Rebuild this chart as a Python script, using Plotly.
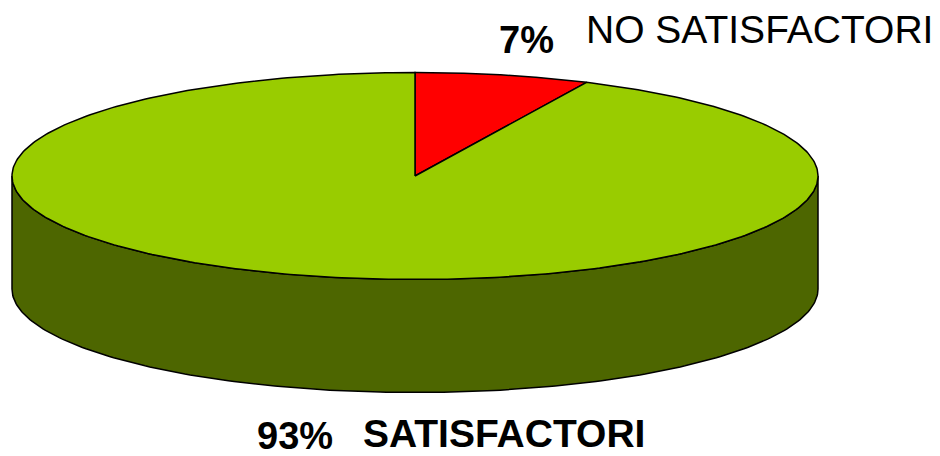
import numpy as np
import plotly.graph_objects as go

# ---- data ----
labels = ["NO SATISFACTORI", "SATISFACTORI"]
values = [7, 93]
top_colors = ["#FF0000", "#99CC00"]
side_colors = ["#800000", "#4D6600"]
label_bold = [False, True]
pct_bold = [True, True]

# ---- geometry (pixels, y downward) ----
CX, CY, A, B, DEPTH = 415, 176, 403, 103.5, 113
W, H = 940, 456


def ell(t_deg, dy=0.0):
    t = np.radians(t_deg)
    return CX + A * np.sin(t), CY - B * np.cos(t) + dy


fig = go.Figure()
total = float(sum(values))
angles = np.cumsum([0] + [v / total * 360.0 for v in values])

# side walls (front half: 90..270 deg, clockwise from 12 o'clock)
for i in range(len(values)):
    s, e = angles[i], angles[i + 1]
    lo, hi = max(s, 90), min(e, 270)
    if hi <= lo:
        continue
    ts = np.linspace(lo, hi, 200)
    xt, yt = ell(ts)
    xb, yb = ell(ts[::-1], DEPTH)
    xs = np.concatenate([xt, xb, xt[:1]])
    ys = np.concatenate([yt, yb, yt[:1]])
    fig.add_trace(go.Scatter(x=xs, y=ys, mode="lines", fill="toself",
                             fillcolor=side_colors[i],
                             line=dict(color="black", width=1.5),
                             hoverinfo="skip", showlegend=False))

# top faces
for i in range(len(values)):
    s, e = angles[i], angles[i + 1]
    ts = np.linspace(s, e, 400)
    xt, yt = ell(ts)
    xs = np.concatenate([[CX], xt, [CX]])
    ys = np.concatenate([[CY], yt, [CY]])
    fig.add_trace(go.Scatter(x=xs, y=ys, mode="lines", fill="toself",
                             fillcolor=top_colors[i],
                             line=dict(color="black", width=1.5),
                             hoverinfo="skip", showlegend=False))

# labels
pct = [f"{round(v / total * 100)}%" for v in values]
font = "Liberation Sans, Arial, sans-serif"


def t(txt, bold):
    return f"<b>{txt}</b>" if bold else txt


ann = [
    dict(x=526, y=40, text=t(pct[0], pct_bold[0]), xanchor="center", size=38),
    dict(x=584, y=29, text=t(labels[0], label_bold[0]), xanchor="left", size=39),
    dict(x=295, y=436, text=t(pct[1], pct_bold[1]), xanchor="center", size=38),
    dict(x=361, y=433, text=t(labels[1], label_bold[1]), xanchor="left", size=39),
]
for a in ann:
    fig.add_annotation(x=a["x"], y=a["y"], text=a["text"], xref="x", yref="y",
                       xanchor=a["xanchor"], yanchor="middle", showarrow=False,
                       font=dict(family=font, size=a["size"], color="black"))

fig.update_layout(
    width=W, height=H,
    margin=dict(l=0, r=0, t=0, b=0),
    paper_bgcolor="white", plot_bgcolor="white",
    xaxis=dict(range=[0, W], visible=False, fixedrange=True),
    yaxis=dict(range=[H, 0], visible=False, fixedrange=True),
    showlegend=False,
)
fig.write_html(
    "out.html",
    config={"displayModeBar": False},
    post_script="document.body.style.margin='0';document.body.style.overflow='hidden';",
)
